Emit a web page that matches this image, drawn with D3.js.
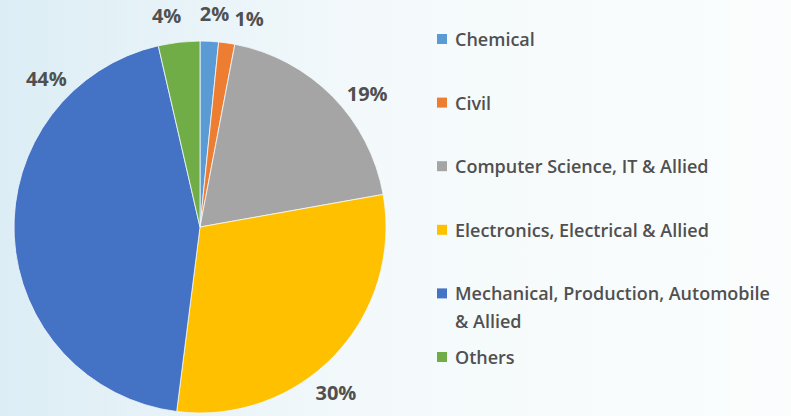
<!DOCTYPE html>
<html>
<head>
<meta charset="utf-8">
<script src="https://cdn.jsdelivr.net/npm/d3@7"></script>
<style>
  body { margin: 0; overflow: hidden; }
  text { font-family: "Open Sans", Lato, sans-serif; font-weight: 600; fill: #505050; }
  text.pct { font-weight: 700; }
</style>
</head>
<body>
<div id="chart"></div>
<script>
let width = 791;
let height = 416;

// data
let categories = [
  "Chemical",
  "Civil",
  "Computer Science, IT & Allied",
  "Electronics, Electrical & Allied",
  "Mechanical, Production, Automobile & Allied",
  "Others"
];
let shares = [1.6, 1.4, 19.2, 29.8, 44.4, 3.6];
let shareLabels = ["2%", "1%", "19%", "30%", "44%", "4%"];

// layout
let colors = ["#5b9bd5", "#ed7d31", "#a5a5a5", "#ffc000", "#4472c4", "#70ad47"];
let labelNudge = [1, 5, 6, 7, 47, -2.5]; // degrees, like manually moved labels
let cx = 200, cy = 227, radius = 186, labelRadius = 214;

let svg = d3.select("#chart")
  .append("svg")
  .attr("width", width)
  .attr("height", height);

let grad = svg.append("defs").append("linearGradient")
  .attr("id", "bg")
  .attr("x1", "0%").attr("x2", "100%")
  .attr("y1", "0%").attr("y2", "0%");
grad.append("stop").attr("offset", "0%").attr("stop-color", "#dcedf5");
grad.append("stop").attr("offset", "45%").attr("stop-color", "#f3f9fb");
grad.append("stop").attr("offset", "100%").attr("stop-color", "#fbfdfd");

svg.append("rect")
  .attr("width", width)
  .attr("height", height)
  .attr("fill", "url(#bg)");

let pieData = d3.pie().sort(null).value(d => d)(shares);
let arc = d3.arc().innerRadius(0).outerRadius(radius);

let g = svg.append("g").attr("transform", `translate(${cx},${cy})`);

g.selectAll("path")
  .data(pieData)
  .enter()
  .append("path")
  .attr("d", arc)
  .attr("fill", (d, i) => colors[i])
  .attr("stroke", "#f4f9fb")
  .attr("stroke-width", 0.8);

g.selectAll("text.pct")
  .data(pieData)
  .enter()
  .append("text")
  .attr("class", "pct")
  .attr("x", (d, i) => labelRadius * Math.sin((d.startAngle + d.endAngle) / 2 + labelNudge[i] * Math.PI / 180))
  .attr("y", (d, i) => -labelRadius * Math.cos((d.startAngle + d.endAngle) / 2 + labelNudge[i] * Math.PI / 180))
  .attr("text-anchor", "middle")
  .attr("dominant-baseline", "central")
  .style("font-size", "20px")
  .text((d, i) => shareLabels[i]);

// legend
let legendX = 437, legendY = 39, legendStep = 63.6, maxTextWidth = 325;
let legend = svg.append("g");

categories.forEach((c, i) => {
  let y = legendY + i * legendStep;
  legend.append("rect")
    .attr("x", legendX)
    .attr("y", y - 5)
    .attr("width", 10)
    .attr("height", 10)
    .attr("fill", colors[i]);

  let t = legend.append("text")
    .attr("x", legendX + 18)
    .attr("y", y)
    .attr("dominant-baseline", "central")
    .style("font-size", "18px");

  // simple word wrap
  let words = c.split(" ");
  let line = [];
  let tspan = t.append("tspan").attr("x", legendX + 18).attr("dy", 0);
  words.forEach(w => {
    line.push(w);
    tspan.text(line.join(" "));
    if (tspan.node().getComputedTextLength() > maxTextWidth && line.length > 1) {
      line.pop();
      tspan.text(line.join(" "));
      line = [w];
      tspan = t.append("tspan").attr("x", legendX + 18).attr("dy", 28).text(w);
    }
  });
});
</script>
</body>
</html>
